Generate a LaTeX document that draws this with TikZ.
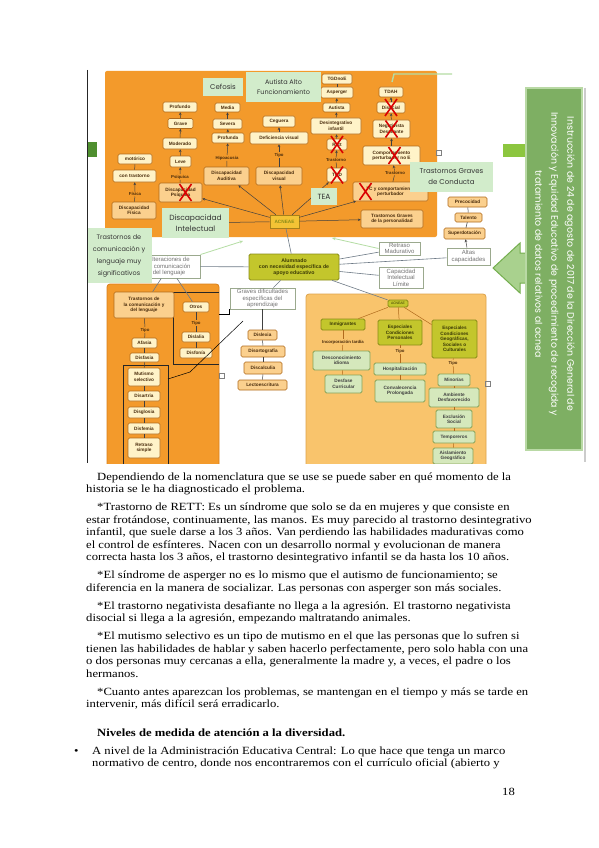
\documentclass[tikz,border=0pt]{standalone}
\usepackage{fontspec}
\setmainfont{Liberation Serif}
\newfontfamily\bodyfont[FakeStretch=1.15]{Liberation Serif}
\newfontfamily\mapfont{Liberation Sans}
\newfontfamily\grnfont{Poppins}
\usetikzlibrary{arrows.meta}
\definecolor{pnlor}{HTML}{F39A2B}
\definecolor{pnlorb}{HTML}{D9801A}
\definecolor{pnllt}{HTML}{F9C46C}
\definecolor{pnlltb}{HTML}{DDA24A}
\definecolor{paleyel}{HTML}{FFF3C8}
\definecolor{ltor}{HTML}{FBD08E}
\definecolor{brd}{HTML}{B06A1C}
\definecolor{txtbr}{HTML}{4A2C0C}
\definecolor{grnlbl}{HTML}{D2ECCB}
\definecolor{olv}{HTML}{C3C62C}
\definecolor{olvbrd}{HTML}{8A8C18}
\definecolor{olvtxt}{HTML}{3B3A05}
\definecolor{palegrn}{HTML}{D5E8BC}
\definecolor{pgbrd}{HTML}{86A257}
\definecolor{wbrd}{HTML}{9BA98E}
\definecolor{linegr}{HTML}{6E7A86}
\definecolor{grnline}{HTML}{B5DDA4}
\definecolor{pnlgrn}{HTML}{7EAF63}
\definecolor{pnlgrnbrd}{HTML}{B9D9A5}
\definecolor{arrgrn}{HTML}{A9D18E}
\definecolor{arrbrd}{HTML}{74AE4E}
\definecolor{stubdk}{HTML}{4F8F2F}
\definecolor{stublt}{HTML}{8CC63F}
\definecolor{acnfill}{HTML}{F3C335}
\definecolor{acnbrd}{HTML}{A7801A}

\begin{document}
\begin{tikzpicture}[x=1pt, y=-1pt,
  box/.style={draw=brd, fill=paleyel, rounded corners=1.5pt, line width=0.6pt, inner sep=0.5pt,
    align=center, text=txtbr, font=\mapfont\bfseries\fontsize{4.7}{5.4}\selectfont},
  obox/.style={box, fill=ltor},
  abox/.style={box, draw=acnbrd, fill=acnfill, rounded corners=0pt, text=olvbrd},
  ybox/.style={box, draw=olvbrd, fill=olv, line width=0.8pt, text=olvtxt},
  pgbox/.style={box, draw=pgbrd, fill=palegrn, line width=0.8pt, text=black!75},
  wbox/.style={box, draw=wbrd, fill=white, rounded corners=0pt, line width=0.9pt, text=black!55,
    font=\mapfont\fontsize{6}{6.4}\selectfont},
  gbox/.style={fill=grnlbl, inner sep=1pt, align=center, text=black!80},
  lbl/.style={inner sep=0.7pt, text=txtbr, font=\mapfont\bfseries\fontsize{4.3}{5}\selectfont},
  ln/.style={line width=0.5pt, draw=black!75},
  gln/.style={line width=0.6pt, draw=linegr},
  uparr/.style={ln, -{Stealth[length=2.8pt,width=2.6pt]}},
  grnarr/.style={line width=0.8pt, draw=grnline, -{Stealth[length=3.5pt,width=3pt]}},
  redx/.style={draw=red!85!black, line width=1.6pt},
  tline/.style={anchor=base west, inner sep=0pt, font=\bodyfont\fontsize{11}{13}\selectfont}]

\fill[white] (0,0) rectangle (599,848);
\useasboundingbox (0,0) rectangle (599,848);

% left edge of the scanned map
\draw[line width=0.9pt, black!85] (87.6,70) -- (87.6,463);

\begin{scope}
\clip (88,66) rectangle (590,463);

% Panels
\fill[pnlor, rounded corners=2pt] (105,71) rectangle (437,237);
\draw[grnline, line width=1.4pt] (392,82) -- (394,74) -- (452,74);
\filldraw[fill=pnlor, draw=pnlorb, rounded corners=3pt, line width=0.8pt] (107,284) rectangle (219,470);
\filldraw[fill=pnllt, draw=pnlltb, rounded corners=3pt, line width=0.8pt] (306,294) rectangle (486,470);
\draw[black!85, line width=0.7pt] (157,292) -- (219,292) (173,292) -- (173,364) -- (219,364);
\draw[black!85, line width=0.7pt] (123,470) -- (123,365) -- (168,365) -- (168,470);
\fill[stubdk] (88,142) rectangle (97,157);
\fill[stublt] (503,144) rectangle (526,157);

% Nodes, top panel
\node[box, minimum width=30, minimum height=10] (tgdn) at (337,79) {TGDnoE};
\node[box, minimum width=32, minimum height=11] (asperger) at (337,92.5) {Asperger};
\node[box, minimum width=27, minimum height=9] (autista) at (336.5,107.5) {Autista};
\node[box, minimum width=50, minimum height=16] (desint) at (336,126) {Desintegrativo\\infantil};
\node[box, minimum width=20, minimum height=11] (rett) at (337,144.5) {Rett};
\node[lbl] (trasA) at (336,160) {Trastorno};
\node[box, minimum width=20, minimum height=14] (tgd) at (337,175) {TGD};
\node[box, minimum width=24, minimum height=10] (tdah) at (391,92) {TDAH};
\node[box, minimum width=28, minimum height=11] (disocial) at (391,107.5) {Disocial};
\node[box, minimum width=37, minimum height=18] (negdes) at (391.5,129) {Negativista\\Desafiante};
\node[box, minimum width=57, minimum height=19] (compnoe) at (391.5,155.5) {Comportamiento\\perturbador no E};
\node[lbl] (trasB) at (395,173) {Trastorno};
\node[obox, minimum width=75, minimum height=19] (tccomp) at (390.5,191.5) {TC y comportamiento\\perturbador};
\node[obox, minimum width=62, minimum height=18] (tgpers) at (392,219) {Trastornos Graves\\de la personalidad};
\node[abox, minimum width=29, minimum height=13] (acneae) at (284.5,221.5) {ACNEAE};
\node[obox, minimum width=44, minimum height=17] (dfis) at (134,210.5) {Discapacidad\\Física};
\node[lbl] (fisica) at (135,194) {Física};
\node[box, minimum width=43, minimum height=12] (contr) at (134.5,176) {con trastorno};
\node[box, minimum width=34, minimum height=10] (motor) at (135,159) {motórico};
\node[obox, minimum width=43, minimum height=19] (dpsi) at (180.5,192.5) {Discapacidad\\Psíquica};
\node[lbl] (psiq) at (180,177) {Psíquica};
\node[box, minimum width=21, minimum height=11] (leve) at (180.5,161.5) {Leve};
\node[box, minimum width=34, minimum height=11] (moderado) at (180,143.5) {Moderado};
\node[box, minimum width=25, minimum height=10] (grave) at (180.5,123.5) {Grave};
\node[box, minimum width=34, minimum height=10] (profundo) at (180,107) {Profundo};
\node[obox, minimum width=45, minimum height=18] (daud) at (226.5,176) {Discapacidad\\Auditiva};
\node[lbl] (hipo) at (227,158) {Hipoacusia};
\node[box, minimum width=32, minimum height=10] (profunda) at (228,138) {Profunda};
\node[box, minimum width=29, minimum height=10] (severa) at (227.5,124) {Severa};
\node[box, minimum width=25, minimum height=9] (media) at (227.5,107.5) {Media};
\node[obox, minimum width=46, minimum height=18] (dvis) at (279,176) {Discapacidad\\visual};
\node[lbl] (tipoV) at (279,155) {Tipo};
\node[box, minimum width=58, minimum height=12] (defvis) at (279,138) {Deficiencia visual};
\node[box, minimum width=32, minimum height=11] (ceguera) at (279,121.5) {Ceguera};
\node[gbox, minimum width=67, minimum height=30, font=\grnfont\fontsize{7.5}{11}\selectfont] (dintel) at (195.5,223) {Discapacidad\\Intelectual};

% Nodes, middle
\node[ybox, minimum width=90, minimum height=26, font=\mapfont\bfseries\fontsize{5.2}{6.2}\selectfont] (alumnado) at (294,267) {Alumnado\\con necesidad específica de\\apoyo educativo};
\node[wbox, minimum width=41, minimum height=13] (retmad) at (399.5,248.5) {Retraso\\Madurativo};
\node[wbox, minimum width=44, minimum height=21] (cil) at (401,277.5) {Capacidad\\Intelectual\\Límite};
\node[wbox, minimum width=43, minimum height=17] (altas) at (468.5,256.5) {Altas\\capacidades};
\node[obox, minimum width=39, minimum height=10] (precoc) at (467.5,202) {Precocidad};
\node[obox, minimum width=27, minimum height=9] (talento) at (468.5,217.5) {Talento};
\node[obox, minimum width=41, minimum height=11] (superdot) at (464.5,233.5) {Superdotación};
\node[wbox, minimum width=62, minimum height=23] (alter) at (169,266.5) {Alteraciones de\\la comunicación\\del lenguaje};
\node[wbox, minimum width=65, minimum height=21] (gdea) at (262.5,298.5) {Graves dificultades\\específicas del\\aprendizaje};
\node[obox, minimum width=29, minimum height=10] (dislexia) at (262.5,335) {Dislexia};
\node[obox, minimum width=44, minimum height=11] (disort) at (263,351.5) {Disortografía};
\node[obox, minimum width=38, minimum height=12] (discalc) at (263,368) {Discalculia};
\node[obox, minimum width=49, minimum height=10] (lectoesc) at (262.5,385) {Lectoescritura};

% Nodes, lower left
\node[obox, minimum width=60, minimum height=26] (tcl) at (144,305) {Trastornos de\\la comunicación y\\del lenguaje};
\node[lbl] (tipoL) at (145,330) {Tipo};
\node[box, minimum width=25, minimum height=10] (afasia) at (144.5,343) {Afasia};
\node[box, minimum width=29, minimum height=9] (disfasia) at (144.5,357.5) {Disfasia};
\node[box, minimum width=32, minimum height=18] (mutismo) at (144,377) {Mutismo\\selectivo};
\node[box, minimum width=32, minimum height=10] (disartria) at (144,396) {Disartria};
\node[box, minimum width=32, minimum height=11] (disglosia) at (144,412.5) {Disglosia};
\node[box, minimum width=32, minimum height=11] (disfemia) at (144,428.5) {Disfemia};
\node[box, minimum width=32, minimum height=20] (retsimple) at (144,448) {Retraso\\simple};
\node[box, minimum width=26, minimum height=10] (otros) at (196,307) {Otros};
\node[lbl] (tipoO) at (196,323) {Tipo};
\node[box, minimum width=28, minimum height=10] (dislalia) at (196,337) {Dislalia};
\node[box, minimum width=32, minimum height=10] (disfonia) at (196,353) {Disfonía};

% Nodes, lower right
\node[ybox, minimum width=20, minimum height=7, font=\mapfont\fontsize{3.4}{4}\selectfont] (ecophe) at (398,303.5) {ACNEAE};
\node[ybox, minimum width=44, minimum height=11] (inmig) at (343,324.5) {Inmigrantes};
\node[lbl] (incorp) at (343,342) {Incorporación tardía};
\node[pgbox, minimum width=57, minimum height=19] (descid) at (341.5,360.5) {Desconocimiento\\idioma};
\node[pgbox, minimum width=37, minimum height=18] (desfase) at (343.5,384) {Desfase\\Curricular};
\node[ybox, minimum width=44, minimum height=25] (ecp) at (400,332.5) {Especiales\\Condiciones\\Personales};
\node[lbl] (tipoP) at (400,351) {Tipo};
\node[pgbox, minimum width=52, minimum height=12] (hosp) at (400,369) {Hospitalización};
\node[pgbox, minimum width=50, minimum height=22] (conval) at (400,391) {Convalecencia\\Prolongada};
\node[ybox, minimum width=45, minimum height=38] (ecgsc) at (454.5,339) {Especiales\\Condiciones\\Geográficas,\\Sociales o\\Culturales};
\node[lbl] (tipoG) at (453,363) {Tipo};
\node[pgbox, minimum width=32, minimum height=12] (minorias) at (454,380) {Minorías};
\node[pgbox, minimum width=50, minimum height=19] (ambdes) at (454,397.5) {Ambiente\\Desfavorecido};
\node[pgbox, minimum width=36, minimum height=18] (exsoc) at (454,419) {Exclusión\\Social};
\node[pgbox, minimum width=42, minimum height=12] (temp) at (454,437) {Temporeros};
\node[pgbox, minimum width=40, minimum height=16] (aisl) at (453,456) {Aislamiento\\Geográfico};

% Edges, top panel
\draw[ln] (dvis) -- (tipoV);
\draw[uparr] (tipoV) -- (defvis);
\draw[uparr] (defvis) -- (ceguera);
\draw[ln] (daud) -- (hipo);
\draw[uparr] (hipo) -- (profunda);
\draw[uparr] (profunda) -- (severa);
\draw[uparr] (severa) -- (media);
\draw[ln] (dpsi) -- (psiq);
\draw[uparr] (psiq) -- (leve);
\draw[uparr] (leve) -- (moderado);
\draw[uparr] (moderado) -- (grave);
\draw[uparr] (grave) -- (profundo);
\draw[ln] (dfis) -- (fisica);
\draw[uparr] (fisica) -- (contr);
\draw[ln] (contr) -- (motor);
\draw[ln] (tgd) -- (trasA);
\draw[uparr] (trasA) -- (rett);
\draw[uparr] (rett) -- (desint);
\draw[uparr] (desint) -- (autista);
\draw[uparr] (autista) -- (asperger);
\draw[ln] (asperger) -- (tgdn);
\draw[ln] (tccomp) -- (trasB);
\draw[uparr] (trasB) -- (compnoe);
\draw[uparr] (compnoe) -- (negdes);
\draw[uparr] (negdes) -- (disocial);
\draw[uparr] (disocial) -- (tdah);
\draw[uparr] (acneae) -- (dpsi);
\draw[uparr] (acneae) -- (daud);
\draw[uparr] (acneae) -- (dvis);
\draw[uparr] (acneae) -- (tgd);
\draw[uparr] (acneae) -- (tccomp);
\draw[uparr] (acneae) -- (tgpers);
\draw[ln] (acneae) -- (dintel);

% Edges, middle
\draw[gln] (acneae) -- (alumnado);
\draw[gln] (alumnado) -- (retmad);
\draw[gln] (alumnado) -- (altas);
\draw[gln] (alumnado) -- (cil);
\draw[gln] (alumnado) -- (alter);
\draw[gln] (alumnado) -- (gdea);
\draw[gln] (alumnado) -- (ecophe);
\draw[uparr] (altas) -- (superdot);
\draw[ln] (superdot) -- (talento);
\draw[ln] (talento) -- (precoc);
\draw[gln] (alter) -- (tcl);
\draw[gln] (alter) -- (otros);
\coordinate (gA) at (243,241);
\coordinate (gB) at (332,238);
\draw[grnarr] (alter.north east) -- (gA);
\draw[grnarr] (retmad.west) -- (gB);

% Edges, lower panels
\draw[ln] (tcl) -- (tipoL);
\draw[ln] (tipoL) -- (afasia);
\draw[ln] (afasia) -- (disfasia);
\draw[ln] (disfasia) -- (mutismo);
\draw[ln] (mutismo) -- (disartria);
\draw[ln] (disartria) -- (disglosia);
\draw[ln] (disglosia) -- (disfemia);
\draw[ln] (disfemia) -- (retsimple);
\draw[ln] (otros) -- (tipoO);
\draw[ln] (tipoO) -- (dislalia);
\draw[ln] (dislalia) -- (disfonia);
\draw[ln] (gdea) -- (dislexia);
\draw[ln] (dislexia) -- (disort);
\draw[ln] (disort) -- (discalc);
\draw[ln] (discalc) -- (lectoesc);
\coordinate (frA) at (219,314);
\coordinate (frB) at (168,379);
\coordinate (kink) at (190,372);
\coordinate (gtail) at (243,321);
\draw[ln, black] (frA) -| (gdea.south west);
\draw[ln, black] (frB) -- (kink) -- (gtail);
\draw[ln, brd] (ecophe) -- (inmig);
\draw[ln, brd] (ecophe) -- (ecp);
\draw[ln, brd] (ecophe) -- (ecgsc);
\draw[ln, brd] (inmig) -- (incorp);
\draw[ln, brd] (incorp) -- (descid);
\draw[ln, brd] (descid) -- (desfase);
\draw[ln, brd] (ecp) -- (tipoP);
\draw[ln, brd] (tipoP) -- (hosp);
\draw[ln, brd] (hosp) -- (conval);
\draw[ln, brd] (ecgsc) -- (tipoG);
\draw[ln, brd] (tipoG) -- (minorias);
\draw[ln, brd] (minorias) -- (ambdes);
\draw[ln, brd] (ambdes) -- (exsoc);
\draw[ln, brd] (exsoc) -- (temp);
\draw[ln, brd] (temp) -- (aisl);

% Green labels
\node[gbox, minimum width=40, minimum height=18, font=\grnfont\fontsize{7}{8}\selectfont] (cefosis) at (223,87) {Cefosis};
\node[gbox, minimum width=75, minimum height=30, font=\grnfont\fontsize{6.5}{10}\selectfont] (aaf) at (283.5,87) {Autista Alto\\Funcionamiento};
\node[gbox, minimum width=26, minimum height=17, font=\grnfont\fontsize{7.5}{8}\selectfont] (tea) at (324,196.5) {TEA};
\node[gbox, minimum width=83, minimum height=30, font=\grnfont\fontsize{7}{11}\selectfont] (tgcond) at (451.5,177) {Trastornos Graves\\de Conducta};
\node[gbox, minimum width=66, minimum height=55, font=\grnfont\fontsize{6.5}{12}\selectfont] (tcls) at (119,255.5) {Trastornos de\\comunicación y\\lenguaje muy\\significativos};

% Crossed out
\draw[redx] (rett.center) +(-6,-8.5) -- +(6,8.5) +(-6,8.5) -- +(6,-8.5);
\draw[redx] (tgd.center) +(-6,-8.5) -- +(6,8.5) +(-6,8.5) -- +(6,-8.5);
\draw[redx] (dpsi.center) +(-1,-8.5) -- +(11,8.5) +(-1,8.5) -- +(11,-8.5);
\draw[redx] (disocial.center) +(-6,-8.5) -- +(6,8.5) +(-6,8.5) -- +(6,-8.5);
\draw[redx] (negdes.center) +(-6,-8.5) -- +(6,8.5) +(-6,8.5) -- +(6,-8.5);
\draw[redx] (compnoe.center) +(-3,-8.5) -- +(9,8.5) +(-3,8.5) -- +(9,-8.5);
\draw[redx] (tccomp.center) +(-31,-8.5) -- +(-19,8.5) +(-31,8.5) -- +(-19,-8.5);

% small markers
\draw[gray, line width=0.5pt] (436,150) rectangle (441,155);
\draw[gray, line width=0.5pt] (219,373) rectangle (224,378);
\draw[gray, line width=0.5pt] (485,381) rectangle (490,386);

% Instruction panel
\filldraw[fill=arrgrn, draw=arrbrd, line width=1pt] (493,268) -- (520,243) -- (520,253) -- (530,253) -- (530,283) -- (520,283) -- (520,293) -- cycle;
\filldraw[fill=pnlgrn, draw=pnlgrnbrd, line width=1.2pt] (526,88) rectangle (582,450);
\node[rotate=-90, text=white, align=center, font=\grnfont\fontsize{9.4}{16}\selectfont] (instr) at (555,264) {Instrucción de 24 de agosto de 2017 de la Dirección General de\\Innovación y Equidad Educativo de procedimiento de recogida y\\tratamiento de datos relativos al acnea};
\draw[black!20, line width=1.2pt] (585,88) -- (585,462);
\end{scope}

% Text
\node[tline] (l1) at (97,480) {Dependiendo de la nomenclatura que se use se puede saber en qué momento de la};
\node[tline] (l2) at (86,492.5) {historia se le ha diagnosticado el problema.};
\node[tline] (l3) at (97,510.5) {*Trastorno de RETT: Es un síndrome que solo se da en mujeres y que consiste en};
\node[tline] (l4) at (86,523) {estar frotándose, continuamente, las manos. Es muy parecido al trastorno desintegrativo};
\node[tline] (l5) at (86,535.5) {infantil, que suele darse a los 3 años. Van perdiendo las habilidades madurativas como};
\node[tline] (l6) at (86,548) {el control de esfínteres. Nacen con un desarrollo normal y evolucionan de manera};
\node[tline] (l7) at (86,560.5) {correcta hasta los 3 años, el trastorno desintegrativo infantil se da hasta los 10 años.};
\node[tline] (l8) at (97,578.5) {*El síndrome de asperger no es lo mismo que el autismo de funcionamiento; se};
\node[tline] (l9) at (86,591) {diferencia en la manera de socializar. Las personas con asperger son más sociales.};
\node[tline] (l10) at (97,609) {*El trastorno negativista desafiante no llega a la agresión. El trastorno negativista};
\node[tline] (l11) at (86,621.5) {disocial si llega a la agresión, empezando maltratando animales.};
\node[tline] (l12) at (97,639.5) {*El mutismo selectivo es un tipo de mutismo en el que las personas que lo sufren si};
\node[tline] (l13) at (86,652) {tienen las habilidades de hablar y saben hacerlo perfectamente, pero solo habla con una};
\node[tline] (l14) at (86,664.5) {o dos personas muy cercanas a ella, generalmente la madre y, a veces, el padre o los};
\node[tline] (l15) at (86,677) {hermanos.};
\node[tline] (l16) at (97,695) {*Cuanto antes aparezcan los problemas, se mantengan en el tiempo y más se tarde en};
\node[tline] (l17) at (86,707.5) {intervenir, más difícil será erradicarlo.};
\node[tline, font=\bodyfont\bfseries\fontsize{11}{13}\selectfont] (head) at (97,736) {Niveles de medida de atención a la diversidad.};
\node[tline] (bul) at (74,754) {•};
\node[tline] (l18) at (92,754) {A nivel de la Administración Educativa Central: Lo que hace que tenga un marco};
\node[tline] (l19) at (92,766.5) {normativo de centro, donde nos encontraremos con el currículo oficial (abierto y};
\node[tline] (pnum) at (502,795) {18};
\end{tikzpicture}
\end{document}
